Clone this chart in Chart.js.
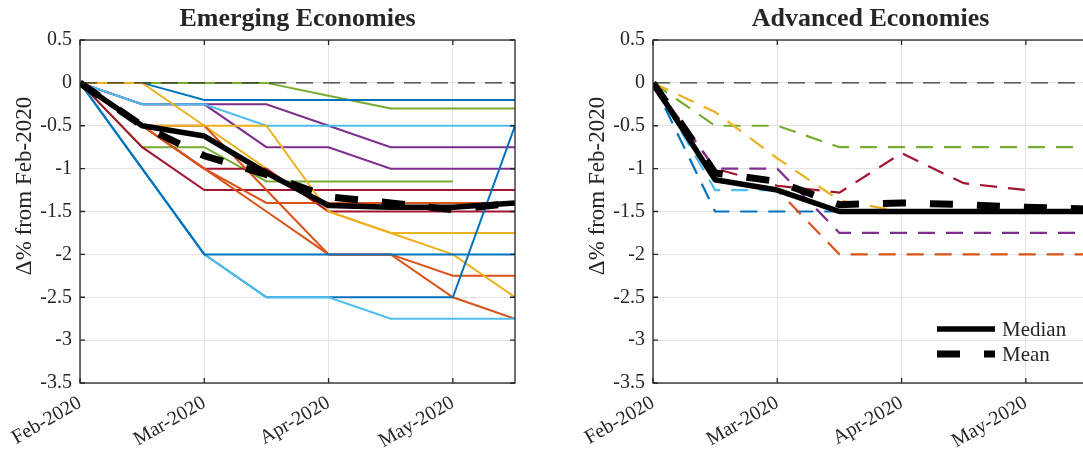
<!DOCTYPE html>
<html lang="en">
<head>
<meta charset="UTF-8">
<title>Emerging vs Advanced Economies</title>
<script src="https://cdn.jsdelivr.net/npm/chart.js"></script>
<style>
  html, body { margin: 0; padding: 0; background: #fff; overflow: hidden; width: 1083px; height: 451px; }
  canvas { position: absolute; top: 0; }
  #emChart { left: 0; }
  #advChart { left: 573px; }
</style>
</head>
<body>
<canvas id="emChart" width="525" height="451"></canvas>
<canvas id="advChart" width="525" height="451"></canvas>
<script>
// months after Feb-2020, half-month steps
const periods = [0, 0.5, 1, 1.5, 2, 2.5, 3, 3.5];
const monthLabels = ['Feb-2020', 'Mar-2020', 'Apr-2020', 'May-2020'];
const zeroLine = [0, 0, 0, 0, 0, 0, 0, 0];
const yLabel = 'Δ% from Feb-2020';

// Emerging economies
const emGreenA  = [0, 0, 0, 0, -0.15, -0.3, -0.3, -0.3];
const emBlueA   = [0, 0, -0.2, -0.2, -0.2, -0.2, -0.2, -0.2];
const emLightA  = [0, -0.25, -0.25, -0.5, -0.5, -0.5, -0.5, -0.5];
const emPurpleA = [0, -0.25, -0.25, -0.25, -0.5, -0.75, -0.75, -0.75];
const emPurpleB = [0, -0.25, -0.25, -0.75, -0.75, -1, -1, -1];
const emYellowA = [0, 0, -0.5, -1, -1.5, -1.75, -1.75, -1.75];
const emYellowB = [0, -0.5, -0.5, -0.5, -1.5, -1.75, -2, -2.5];
const emGreenB  = [0, -0.75, -0.75, -1.15, -1.15, -1.15, -1.15, null];
const emRedA    = [0, -0.75, -1.25, -1.25, -1.25, -1.25, -1.25, -1.25];
const emRedB    = [0, -0.5, -1, -1, -1.5, -1.5, -1.5, -1.5];
const emOrangeA = [0, -0.5, -1, -1.4, -1.4, -1.4, -1.4, -1.4];
const emOrangeB = [0, -0.5, -1, -1.5, -2, -2, -2.25, -2.25];
const emOrangeC = [0, -0.5, -0.5, -1.25, -2, -2, -2.5, -2.75];
const emBlueB   = [0, -1, -2, -2, -2, -2, -2, -2];
const emLightB  = [0, -1, -2, -2.5, -2.5, -2.75, -2.75, -2.75];
const emBlueC   = [0, -1, -2, -2.5, -2.5, -2.5, -2.5, -0.5];
const emMedian  = [0, -0.5, -0.62, -1.05, -1.43, -1.45, -1.45, -1.4];
const emMean    = [0, -0.5, -0.85, -1.07, -1.33, -1.4, -1.48, -1.4];

// Advanced economies
const advGreen  = [0, -0.5, -0.5, -0.75, -0.75, -0.75, -0.75, -0.75];
const advYellow = [0, -0.34, -0.88, -1.37, -1.5, -1.5, -1.5, -1.5];
const advRed    = [0, -1, -1.2, -1.28, -0.82, -1.17, -1.25, null];
const advPurple = [0, -1, -1, -1.75, -1.75, -1.75, -1.75, -1.75];
const advLight  = [0, -1.25, -1.25, -1.5, -1.5, -1.5, -1.5, -1.5];
const advBlue   = [0, -1.5, -1.5, -1.5, -1.5, -1.5, -1.5, -1.5];
const advOrange = [0, -1.15, -1.25, -2, -2, -2, -2, -2];
const advMedian = [0, -1.13, -1.25, -1.5, -1.5, -1.5, -1.5, -1.5];
const advMean   = [0, -1.05, -1.15, -1.42, -1.4, -1.42, -1.45, -1.47];

const C = {
    blue: '#0072BD', orange: '#D95319', yellow: '#EDB120', purple: '#7E2F8E',
    green: '#77AC30', light: '#4DBEEE', red: '#A2142F'
};
const FONT = '"Liberation Serif", "DejaVu Serif", serif';
const INK = '#262626';

const toPoints = (vals) => periods.map((p, i) => ({ x: p, y: vals[i] }));

const thin = (vals, color, dash) => ({
    data: toPoints(vals), borderColor: color, borderWidth: dash ? 2.2 : 2,
    borderDash: dash ? [17, 11] : [], pointRadius: 0
});
const zero = () => ({ data: toPoints(zeroLine), borderColor: '#333', borderWidth: 1.2, borderDash: [17, 10], pointRadius: 0 });
const median = (vals) => ({ label: 'Median', inLegend: true, data: toPoints(vals), borderColor: '#000', borderWidth: 5.5, borderJoinStyle: 'round', pointRadius: 0 });
const mean = (vals) => ({ label: 'Mean', inLegend: true, data: toPoints(vals), borderColor: '#000', borderWidth: 7, borderDash: [23, 24], pointRadius: 0 });

// later entries are drawn on top (like plot order)
const stack = (sets) => { sets.forEach((d, i) => { d.order = sets.length - i; }); return sets; };

const emSets = stack([
    thin(emGreenA, C.green), thin(emBlueA, C.blue),
    thin(emPurpleA, C.purple), thin(emPurpleB, C.purple), thin(emLightA, C.light),
    thin(emYellowA, C.yellow), thin(emGreenB, C.green),
    thin(emRedA, C.red), thin(emRedB, C.red),
    thin(emOrangeA, C.orange), thin(emOrangeB, C.orange), thin(emOrangeC, C.orange),
    thin(emYellowB, C.yellow),
    thin(emBlueC, C.blue), thin(emLightB, C.light), thin(emBlueB, C.blue),
    zero(), median(emMedian), mean(emMean)
]);

const advSets = stack([
    thin(advGreen, C.green, true), thin(advYellow, C.yellow, true), thin(advRed, C.red, true),
    thin(advPurple, C.purple, true), thin(advLight, C.light, true), thin(advBlue, C.blue, true),
    thin(advOrange, C.orange, true),
    zero(), median(advMedian), mean(advMean)
]);

// axes box with inward tick marks, plus the y label
const axesBox = {
    id: 'axesBox',
    afterDraw(chart, args, opts) {
        const { ctx, chartArea: a, scales: { x, y } } = chart;
        ctx.save();
        ctx.strokeStyle = INK;
        ctx.lineWidth = 1.3;
        ctx.strokeRect(a.left, a.top, a.right - a.left, a.bottom - a.top);
        ctx.beginPath();
        x.ticks.forEach(t => {
            const px = x.getPixelForValue(t.value);
            ctx.moveTo(px, a.bottom); ctx.lineTo(px, a.bottom - 5);
            ctx.moveTo(px, a.top); ctx.lineTo(px, a.top + 5);
        });
        y.ticks.forEach(t => {
            const py = y.getPixelForValue(t.value);
            ctx.moveTo(a.left, py); ctx.lineTo(a.left + 5, py);
            ctx.moveTo(a.right, py); ctx.lineTo(a.right - 5, py);
        });
        ctx.stroke();

        ctx.translate(a.left - 55, a.top + 146);
        ctx.rotate(-Math.PI / 2);
        ctx.fillStyle = INK;
        ctx.font = '23px ' + FONT;
        ctx.textAlign = 'center';
        ctx.textBaseline = 'middle';
        ctx.fillText(opts.text, 0, 0);
        ctx.restore();
    }
};

// Median / Mean legend in the lower right corner
const cornerLegend = {
    id: 'cornerLegend',
    afterDraw(chart, args, opts) {
        if (!opts.show) return;
        const { ctx, chartArea: a } = chart;
        chart.data.datasets.filter(d => d.inLegend).forEach((d, i) => {
            const yy = a.bottom - 54 + i * 25;
            ctx.save();
            ctx.strokeStyle = d.borderColor;
            ctx.lineWidth = d.borderWidth;
            ctx.setLineDash(d.borderDash || []);
            ctx.beginPath();
            ctx.moveTo(a.right - 151, yy);
            ctx.lineTo(a.right - 93, yy);
            ctx.stroke();
            ctx.setLineDash([]);
            ctx.fillStyle = INK;
            ctx.font = '21px ' + FONT;
            ctx.textBaseline = 'middle';
            ctx.fillText(d.label, a.right - 86, yy + 1);
            ctx.restore();
        });
    }
};

function makeChart(id, title, datasets, showLegend) {
    return new Chart(document.getElementById(id), {
        type: 'line',
        data: { datasets },
        options: {
            responsive: false,
            animation: false,
            devicePixelRatio: 1,
            layout: { padding: { left: 0, right: 10, top: 0, bottom: 0 } },
            plugins: {
                legend: { display: false },
                tooltip: { enabled: false },
                title: {
                    display: true, text: title, color: INK, fullSize: false,
                    font: { family: FONT, size: 26, weight: 'bold', lineHeight: 1.2 },
                    padding: { top: 4, bottom: 4.8 }
                },
                axesBox: { text: yLabel },
                cornerLegend: { show: showLegend }
            },
            scales: {
                x: {
                    type: 'linear', min: 0, max: 3.5,
                    border: { display: false },
                    grid: { color: '#e3e3e3', drawTicks: false },
                    ticks: {
                        stepSize: 1, minRotation: 30, maxRotation: 30, padding: 8, color: INK,
                        font: { family: FONT, size: 20 },
                        callback: (v) => monthLabels[v]
                    },
                    afterBuildTicks: (s) => { s.ticks = s.ticks.filter(t => Number.isInteger(t.value)); },
                    afterFit: (s) => { s.height = 68; }
                },
                y: {
                    min: -3.5, max: 0.5,
                    border: { display: false },
                    grid: { color: '#e3e3e3', drawTicks: false },
                    ticks: {
                        stepSize: 0.5, padding: 8, color: INK,
                        font: { family: FONT, size: 20 },
                        callback: (v) => String(v)
                    },
                    afterFit: (s) => { s.width = 80; }
                }
            }
        },
        plugins: [axesBox, cornerLegend]
    });
}

makeChart('emChart', 'Emerging Economies', emSets, false);
makeChart('advChart', 'Advanced Economies', advSets, true);
</script>
</body>
</html>
